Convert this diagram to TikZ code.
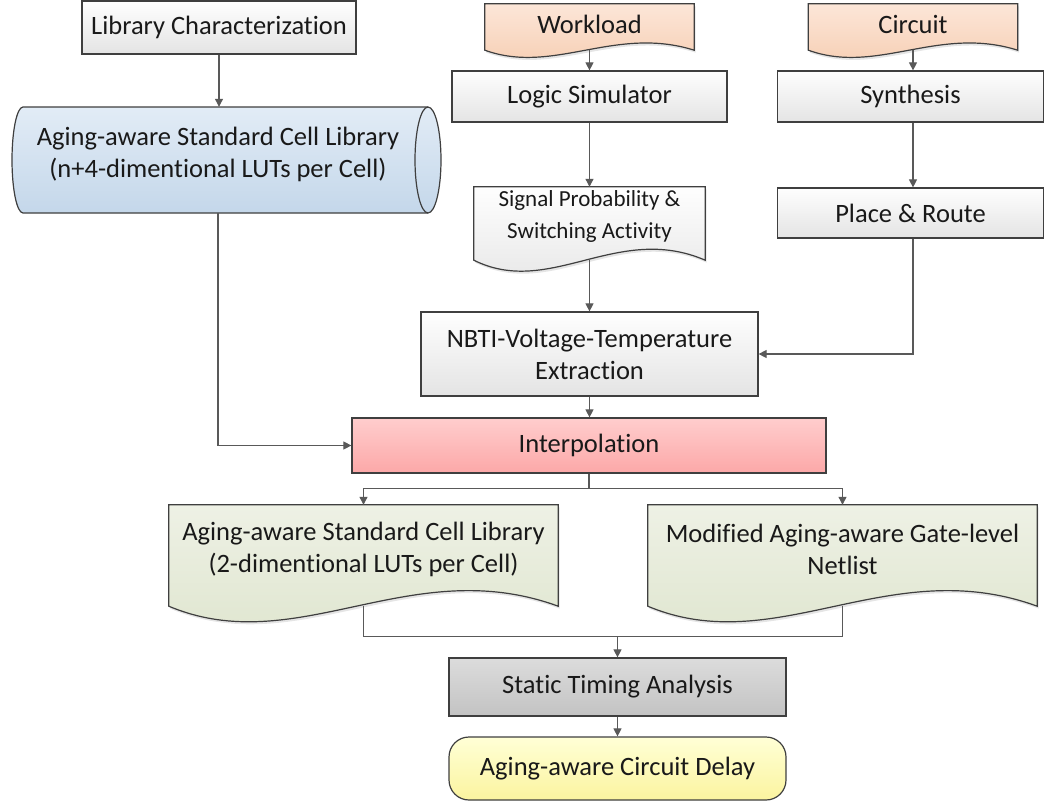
\documentclass[tikz,border=0pt]{standalone}
\usepackage{fontspec}
\setmainfont{Carlito}[Ligatures=NoCommon]
\usetikzlibrary{arrows.meta,backgrounds,calc}

\definecolor{edge}{HTML}{3F3F3F}
\definecolor{wirec}{HTML}{595959}
\definecolor{peachT}{HTML}{FCE6D8}
\definecolor{peachB}{HTML}{F6CBAE}
\definecolor{greyT}{HTML}{FEFEFE}
\definecolor{greyB}{HTML}{E4E4E4}
\definecolor{blueT}{HTML}{E2ECF6}
\definecolor{blueB}{HTML}{C4D7EA}
\definecolor{pinkT}{HTML}{FFCDCD}
\definecolor{pinkB}{HTML}{FCA8A8}
\definecolor{greenT}{HTML}{EEF1E5}
\definecolor{greenB}{HTML}{DDE4CC}
\definecolor{staT}{HTML}{DCDCDC}
\definecolor{staB}{HTML}{C3C3C3}
\definecolor{yelT}{HTML}{FFFFD6}
\definecolor{yelB}{HTML}{FBF49F}

\tikzset{
  every node/.style={font=\fontsize{26.5}{32}\selectfont, text=black!90, inner sep=0pt, align=center},
  box/.style={rectangle, draw=edge, line width=1.2pt},
  greybox/.style={box, top color=greyT, bottom color=greyB},
  docnode/.style={rectangle},
  conn/.style={draw=wirec, line width=1.1pt, -{Triangle[length=8pt,width=8pt]}},
  plain/.style={draw=wirec, line width=1.1pt},
  docline/.style={draw=edge, line width=1.2pt},
}

% Document shape (flat top, wavy bottom) around a node:
% #1 node, #2 drop of the corners below the node, #3 wave amplitude,
% #4/#5 offset of the whole shape, #6 path options
\newcommand{\docshape}[6]{%
  \path[#6] let \p1=($(#1.south west)+(#4,#5)$), \p2=($(#1.south east)+(#4,#5)$),
                \p3=($(#1.north west)+(#4,#5)$), \p4=($(#1.north east)+(#4,#5)$) in
    (\p3) -- (\p4) -- ({\x2},{\y2-#2})
    .. controls ({\x1+0.62*(\x2-\x1)},{\y2-#2+#3}) and ({\x1+0.33*(\x2-\x1)},{\y1-#2-#3}) ..
    ({\x1},{\y1-#2}) -- cycle;}

\begin{document}
\begin{tikzpicture}[x=1pt,y=1pt]
\useasboundingbox (0,0) rectangle (1045,-803);

% process boxes and text holders
\node[greybox, minimum width=274, minimum height=53] (libchar) at (219,-27.5) {Library Characterization};
\node[docnode, minimum width=390, minimum height=94] (lib) at (218,-154)
  {Aging-aware Standard Cell Library\\(n+4-dimentional LUTs per Cell)};
\node[docnode, minimum width=209, minimum height=40] (wl) at (589.5,-24) {Workload};
\node[docnode, minimum width=209, minimum height=40] (ckt) at (913,-24) {Circuit};
\node[greybox, minimum width=275, minimum height=51] (ls) at (589.5,-96.5) {Logic Simulator};
\node[greybox, minimum width=266, minimum height=51] (syn) at (910.5,-96.5) {Synthesis};
\node[docnode, minimum width=231, minimum height=59, font=\fontsize{23}{32}\selectfont] (sig) at (589.5,-216.5)
  {Signal Probability \&\\Switching Activity};
\node[greybox, minimum width=266, minimum height=50] (pr) at (910.5,-213) {Place \& Route};
\node[greybox, minimum width=337, minimum height=84] (nbti) at (589.5,-354)
  {NBTI-Voltage-Temperature\\Extraction};
\node[box, top color=pinkT, bottom color=pinkB, minimum width=474, minimum height=55] (interp) at (589,-445.5) {Interpolation};
\node[docnode, minimum width=389, minimum height=88] (gl) at (363.5,-549)
  {Aging-aware Standard Cell Library\\(2-dimentional LUTs per Cell)};
\node[docnode, minimum width=389, minimum height=88] (gr) at (842.5,-549)
  {Modified Aging-aware Gate-level\\Netlist};
\node[box, top color=staT, bottom color=staB, minimum width=337, minimum height=58] (sta) at (617.5,-687) {Static Timing Analysis};
\node[box, rounded corners=20pt, top color=yelT, bottom color=yelB, minimum width=337, minimum height=63] (delay) at (617.5,-768.5) {Aging-aware Circuit Delay};

% shapes drawn behind the text
\begin{scope}[on background layer]
  % storage cylinder
  \path[docline, top color=blueT, bottom color=blueB]
    (23,-107) -- (428,-107) arc[start angle=90, end angle=-90, x radius=13, y radius=53]
    -- (23,-213) arc[start angle=270, end angle=90, x radius=11, y radius=53] -- cycle;
  \draw[docline] (428,-107) arc[start angle=90, end angle=270, x radius=13, y radius=53];
  % documents: soft shadow, then the shaded sheet
  \docshape{wl}{6}{25}{1.5}{-2.5}{fill=black!10}
  \docshape{ckt}{6}{25}{1.5}{-2.5}{fill=black!10}
  \docshape{sig}{14}{38}{1.5}{-2.5}{fill=black!10}
  \docshape{gl}{13}{54}{1.5}{-2.5}{fill=black!10}
  \docshape{gr}{13}{54}{1.5}{-2.5}{fill=black!10}
  \docshape{wl}{6}{25}{0}{0}{docline, top color=peachT, bottom color=peachB}
  \docshape{ckt}{6}{25}{0}{0}{docline, top color=peachT, bottom color=peachB}
  \docshape{sig}{14}{38}{0}{0}{docline, top color=greyT, bottom color=greyB}
  \docshape{gl}{13}{54}{0}{0}{docline, top color=greenT, bottom color=greenB}
  \docshape{gr}{13}{54}{0}{0}{docline, top color=greenT, bottom color=greenB}
\end{scope}

% connectors
\draw[conn] (libchar.south) -- (libchar.south |- lib.north);
\draw[conn] ([yshift=-6pt]wl.south) -- (ls.north);
\draw[conn] ([yshift=-6pt]ckt.south) -- (ckt.south |- syn.north);
\draw[conn] (ls.south) -- (sig.north);
\draw[conn] (syn.south -| ckt.south) -- (pr.north -| ckt.south);
\draw[conn] ([yshift=-14pt]sig.south) -- (nbti.north);
\draw[conn] (pr.south -| ckt.south) |- (nbti.east);
\draw[conn] (nbti.south) -- (nbti.south |- interp.north);
\draw[conn] ([yshift=-12pt]lib.south) |- (interp.west);
\coordinate (split) at ([yshift=-15pt]interp.south);
\draw[plain] (interp.south) -- (split);
\draw[conn] (split) -| (gl.north);
\draw[conn] (split) -| (gr.north);
\coordinate (merge) at ([yshift=21pt]sta.north);
\draw[plain] ([yshift=-13pt]gl.south) |- (merge) -| ([yshift=-13pt]gr.south);
\draw[conn] (merge) -- (sta.north);
\draw[conn] (sta.south) -- (delay.north);
\end{tikzpicture}
\end{document}
